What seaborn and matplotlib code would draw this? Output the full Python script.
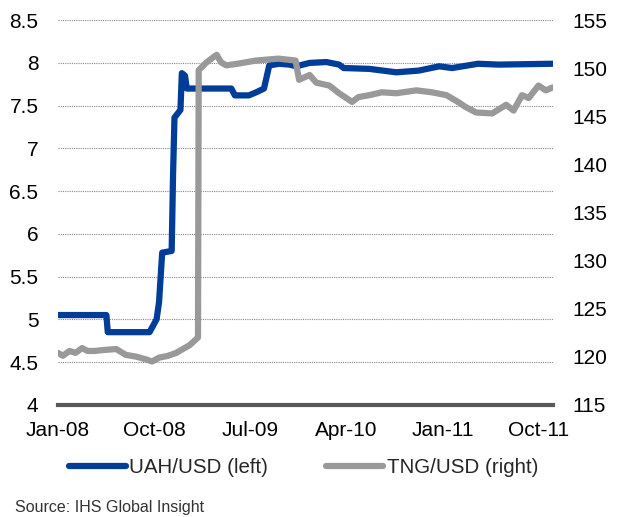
import pandas as pd
import seaborn as sns
import matplotlib.pyplot as plt
import matplotlib.dates as mdates

# UAH/USD (left axis)
uah_dates = ['2008-01-01', '2008-05-18', '2008-05-22', '2008-09-18', '2008-10-08',
             '2008-10-15', '2008-10-24', '2008-11-20', '2008-11-24', '2008-11-28',
             '2008-12-15', '2008-12-19', '2008-12-28', '2009-01-02', '2009-05-09',
             '2009-05-19', '2009-06-28', '2009-07-21', '2009-08-10', '2009-08-25',
             '2009-09-22', '2009-10-22', '2009-11-10', '2009-12-18', '2010-02-04',
             '2010-03-12', '2010-03-25', '2010-06-06', '2010-08-22', '2010-10-25',
             '2010-12-22', '2011-01-28', '2011-04-12', '2011-06-10', '2011-11-10']
uah_values = [5.05, 5.05, 4.85, 4.85, 5.0,
              5.2, 5.78, 5.8, 6.7, 7.36,
              7.45, 7.88, 7.85, 7.70, 7.70,
              7.62, 7.62, 7.66, 7.70, 7.97,
              7.99, 7.98, 7.96, 8.0, 8.01,
              7.98, 7.94, 7.93, 7.89, 7.91,
              7.96, 7.94, 7.99, 7.98, 7.99]

# TNG/USD (right axis)
tng_dates = ['2008-01-01', '2008-01-15', '2008-02-03', '2008-02-20', '2008-03-10',
             '2008-03-25', '2008-04-15', '2008-05-10', '2008-06-15', '2008-07-12',
             '2008-08-12', '2008-09-10', '2008-09-25', '2008-10-15', '2008-11-10',
             '2008-12-03', '2009-01-10', '2009-02-03', '2009-02-05', '2009-02-27',
             '2009-03-28', '2009-04-10', '2009-04-25', '2009-06-01', '2009-07-18',
             '2009-09-20', '2009-11-08', '2009-11-18', '2009-12-18', '2010-01-06',
             '2010-02-12', '2010-03-12', '2010-04-18', '2010-05-06', '2010-06-06',
             '2010-07-12', '2010-08-22', '2010-10-18', '2010-12-01', '2011-01-12',
             '2011-02-18', '2011-03-06', '2011-04-06', '2011-05-22', '2011-07-01',
             '2011-07-22', '2011-08-15', '2011-09-03', '2011-10-01', '2011-10-22',
             '2011-11-10']
tng_values = [120.4, 120.1, 120.6, 120.4, 120.9,
              120.6, 120.6, 120.7, 120.8, 120.2,
              120.0, 119.7, 119.5, 119.9, 120.1,
              120.4, 121.2, 122.0, 149.8, 150.6,
              151.4, 150.6, 150.3, 150.5, 150.8,
              151.0, 150.8, 148.8, 149.3, 148.5,
              148.2, 147.4, 146.5, 147.0, 147.2,
              147.5, 147.4, 147.7, 147.5, 147.2,
              146.4, 146.0, 145.4, 145.3, 146.2,
              145.6, 147.2, 146.9, 148.2, 147.7,
              148.0]

tick_dates = ['2008-01-01', '2008-10-01', '2009-07-01', '2010-04-01', '2011-01-01', '2011-10-01']

uah = pd.DataFrame({'date': pd.to_datetime(uah_dates), 'value': uah_values})
tng = pd.DataFrame({'date': pd.to_datetime(tng_dates), 'value': tng_values})

sns.set_style('white')
plt.rcParams['font.family'] = ['Liberation Sans', 'DejaVu Sans']

fig, ax = plt.subplots(figsize=(6.23, 5.17), dpi=100)
fig.subplots_adjust(left=0.093, right=0.888, top=0.961, bottom=0.217)
ax2 = ax.twinx()

sns.lineplot(data=uah, x='date', y='value', ax=ax, color='#003d99', lw=4.5,
             label='UAH/USD (left)', legend=False, solid_capstyle='round')
sns.lineplot(data=tng, x='date', y='value', ax=ax2, color='#999999', lw=4.5,
             label='TNG/USD (right)', legend=False, solid_capstyle='round')

ax.set_xlim(pd.Timestamp('2008-01-01'), pd.Timestamp('2011-11-12'))
ax.set_ylim(4, 8.5)
ax2.set_ylim(115, 155)
ax.set_yticks([4, 4.5, 5, 5.5, 6, 6.5, 7, 7.5, 8, 8.5])
ax.set_yticklabels(['4', '4.5', '5', '5.5', '6', '6.5', '7', '7.5', '8', '8.5'])
ax2.set_yticks([115, 120, 125, 130, 135, 140, 145, 150, 155])
ax.set_xticks(pd.to_datetime(tick_dates))
ax.xaxis.set_major_formatter(mdates.DateFormatter('%b-%y'))

ax.set_xlabel('')
ax.set_ylabel('')
ax2.set_ylabel('')

ax.yaxis.grid(True, linestyle=(0, (1, 1)), color='#888888', lw=0.8)
ax.xaxis.grid(False)
ax2.grid(False)

for a in (ax, ax2):
    for s in a.spines.values():
        s.set_visible(False)
ax.spines['bottom'].set_visible(True)
ax.spines['bottom'].set_color('#595959')
ax.spines['bottom'].set_linewidth(3)
ax.spines['bottom'].set_zorder(5)

ax.tick_params(axis='both', length=0, labelsize=15, colors='black')
ax.tick_params(axis='y', pad=14)
ax.tick_params(axis='x', pad=12)
ax2.tick_params(axis='y', length=0, labelsize=15, pad=14, colors='black')

h1, l1 = ax.get_legend_handles_labels()
h2, l2 = ax2.get_legend_handles_labels()
fig.legend(h1 + h2, l1 + l2, loc='center', bbox_to_anchor=(0.487, 0.095), ncol=2,
           frameon=False, fontsize=14.8, handlelength=2.8, handletextpad=0.15,
           columnspacing=2.8)

fig.text(0.024, 0.018, 'Source: IHS Global Insight', fontsize=11.5, color='#333333',
         va='center')

fig.savefig('out.png', dpi=100)
